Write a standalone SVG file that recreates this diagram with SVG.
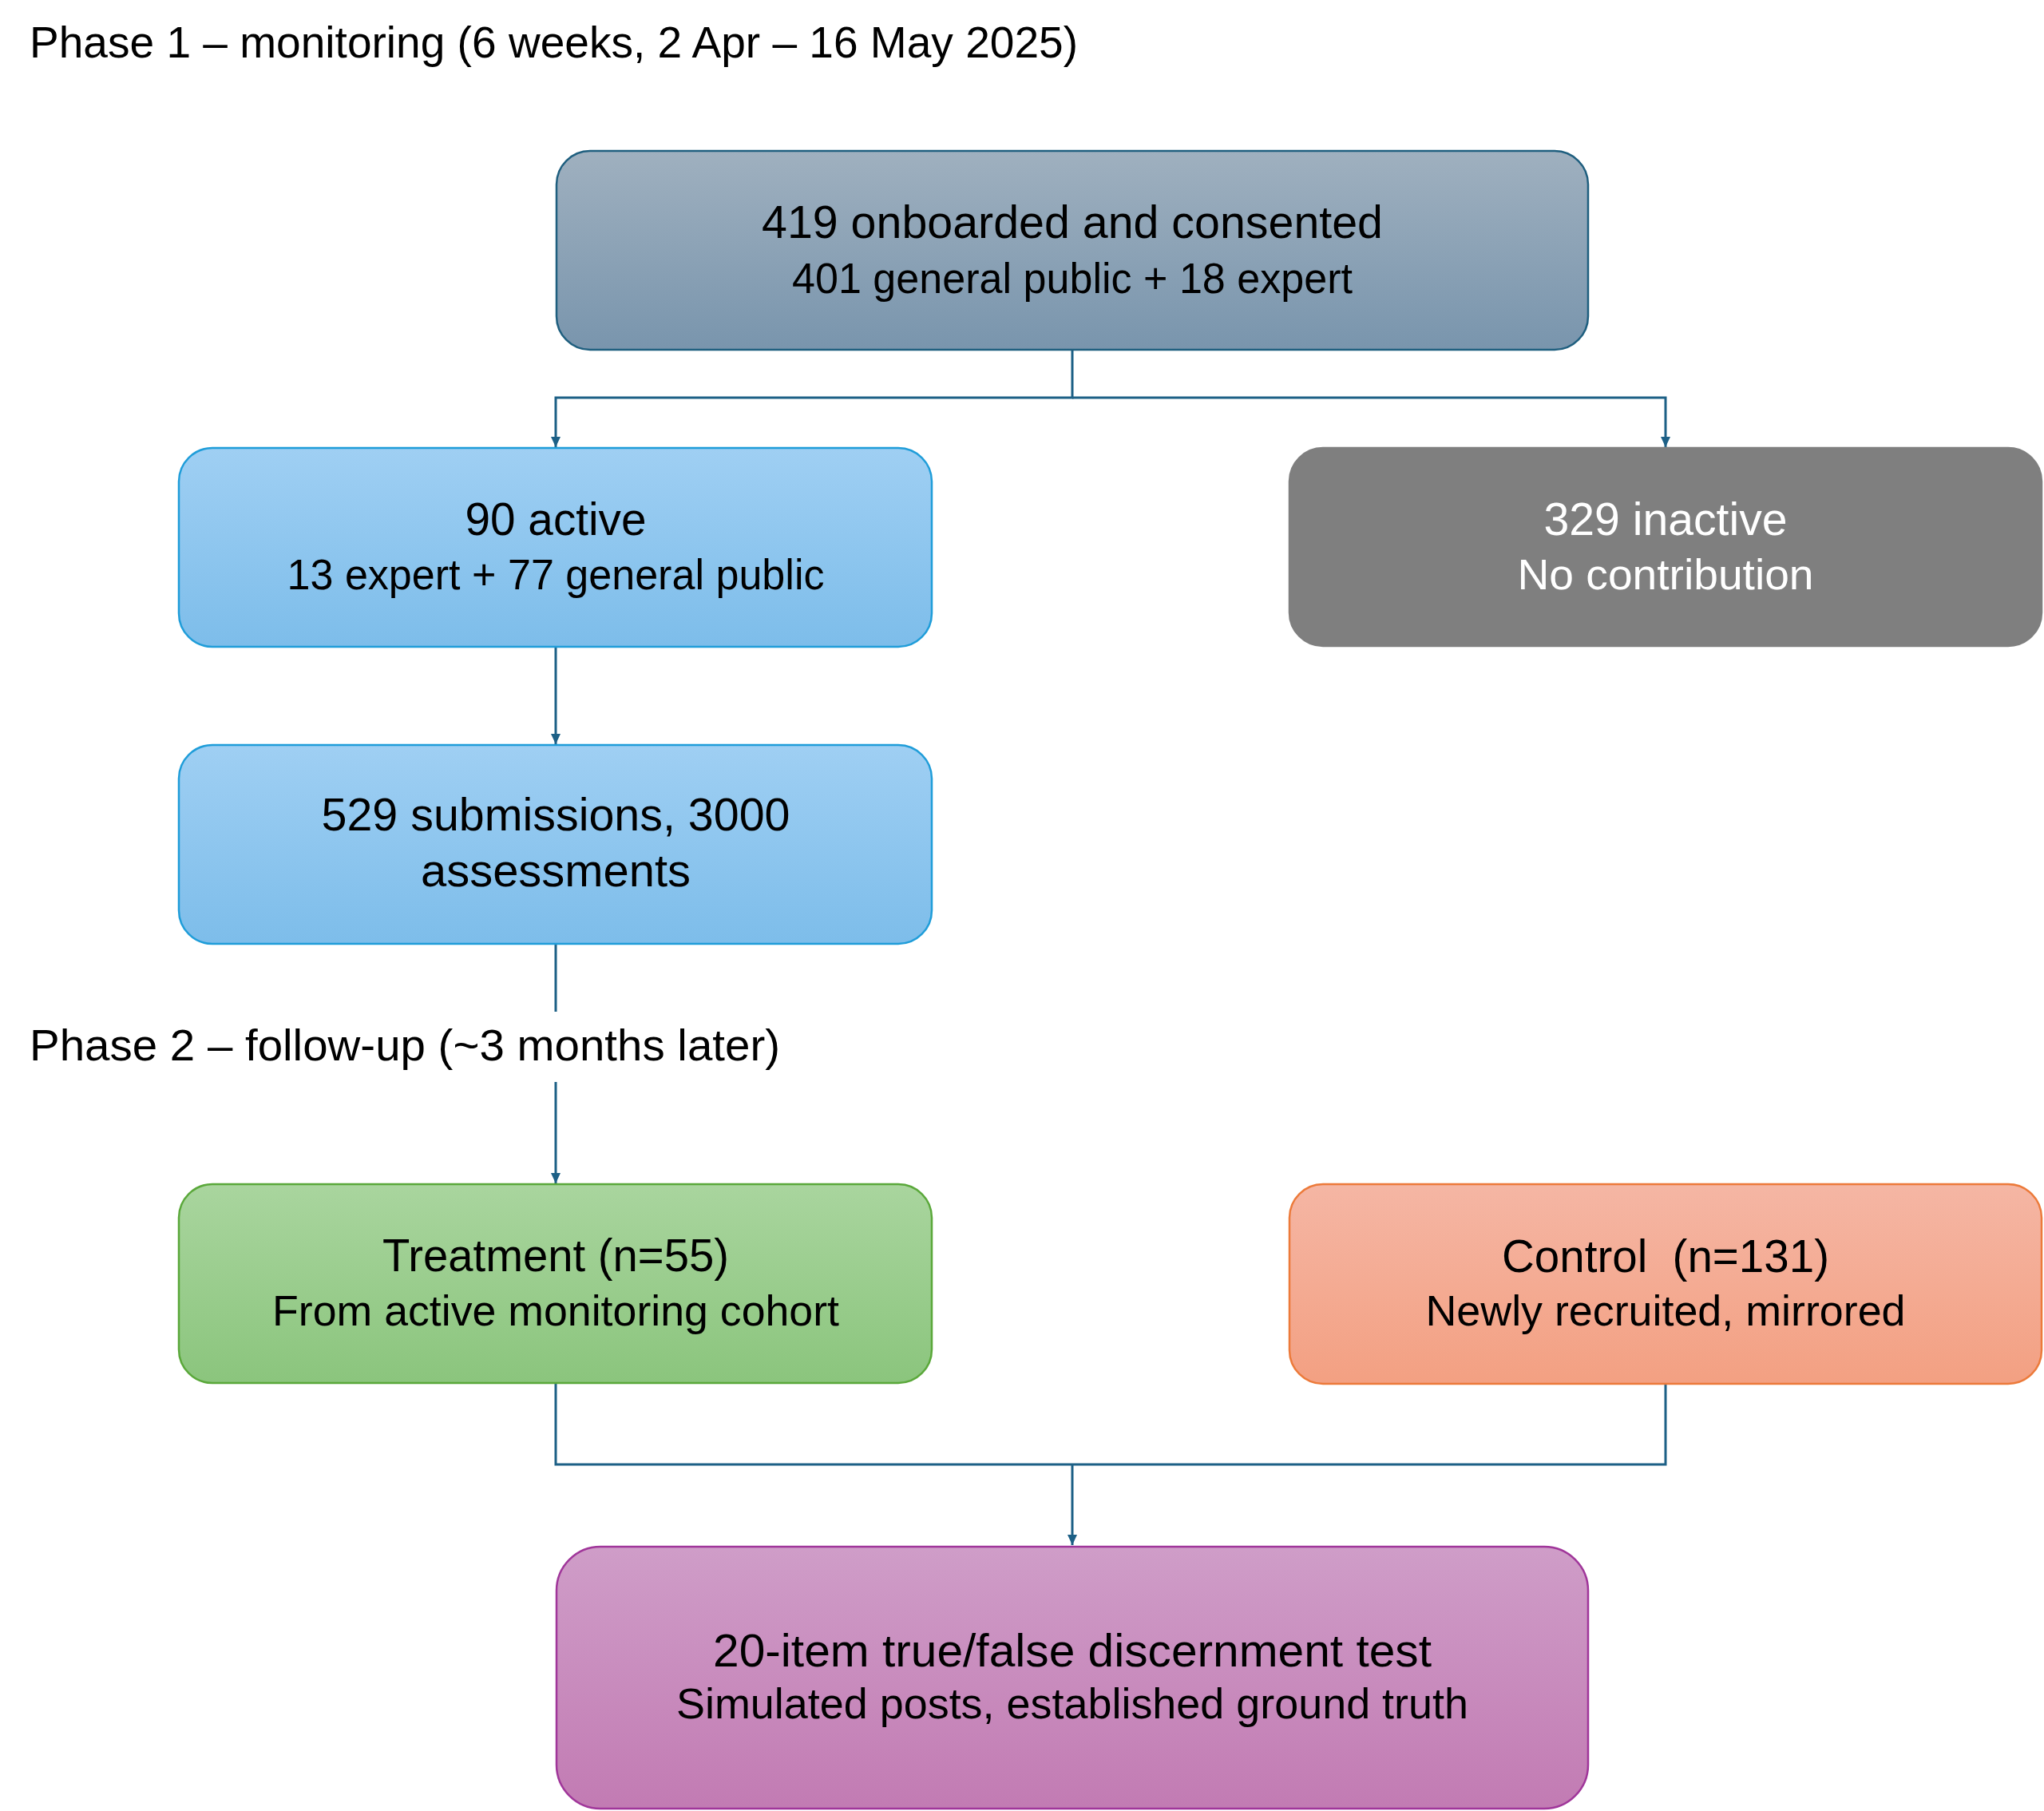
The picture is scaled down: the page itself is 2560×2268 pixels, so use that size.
<svg xmlns="http://www.w3.org/2000/svg" width="2560" height="2268" viewBox="0 0 2560 2268">
<style>
text{font-family:"Liberation Sans",Arial,sans-serif;text-anchor:middle;fill:#000}
.h{text-anchor:start;font-size:55px}
.l1{font-size:57px}
.l2{font-size:53px}
.w{fill:#fff}
.conn{fill:none;stroke:#1d6086;stroke-width:3}
.box{stroke-width:2.5}
</style>
<defs>
<linearGradient id="gTop" x1="0" y1="0" x2="0" y2="1"><stop offset="0" stop-color="#9fb0bf"/><stop offset="1" stop-color="#7995ad"/></linearGradient>
<linearGradient id="gBlue" x1="0" y1="0" x2="0" y2="1"><stop offset="0" stop-color="#9fcff3"/><stop offset="1" stop-color="#7dbdea"/></linearGradient>
<linearGradient id="gGreen" x1="0" y1="0" x2="0" y2="1"><stop offset="0" stop-color="#a9d59e"/><stop offset="1" stop-color="#8bc57d"/></linearGradient>
<linearGradient id="gOrange" x1="0" y1="0" x2="0" y2="1"><stop offset="0" stop-color="#f5b6a4"/><stop offset="1" stop-color="#f3a082"/></linearGradient>
<linearGradient id="gPurple" x1="0" y1="0" x2="0" y2="1"><stop offset="0" stop-color="#cf9dc8"/><stop offset="1" stop-color="#c27bb3"/></linearGradient>
<marker id="arr" markerUnits="userSpaceOnUse" markerWidth="14" markerHeight="12" refX="13" refY="6" orient="auto"><path d="M0,0 L13,6 L0,12 z" fill="#1d6086"/></marker>
</defs>
<rect width="2560" height="2268" fill="#fff"/>

<g id="phase1-label"><text class="h" x="37" y="72" textLength="1313" lengthAdjust="spacingAndGlyphs">Phase 1 – monitoring (6 weeks, 2 Apr – 16 May 2025)</text></g>

<g id="connectors">
<path class="conn" d="M1343,438 V498 H696 V560" marker-end="url(#arr)"/>
<path class="conn" d="M1343,498 H2086 V560" marker-end="url(#arr)"/>
<path class="conn" d="M696,810 V932" marker-end="url(#arr)"/>
<path class="conn" d="M696,1182 V1267 M696,1355 V1482" marker-end="url(#arr)"/>
<path class="conn" d="M696,1732 V1834 H2086 V1733"/>
<path class="conn" d="M1343,1834 V1935" marker-end="url(#arr)"/>
</g>

<g id="onboarded">
<rect class="box" x="697" y="189" width="1292" height="249" rx="42" fill="url(#gTop)" stroke="#1f5f7f"/>
<text class="l1" x="1343" y="298" textLength="778" lengthAdjust="spacingAndGlyphs">419 onboarded and consented</text>
<text class="l2" x="1343" y="367" textLength="702" lengthAdjust="spacingAndGlyphs">401 general public + 18 expert</text>
</g>

<g id="active">
<rect class="box" x="224" y="561" width="943" height="249" rx="42" fill="url(#gBlue)" stroke="#1f9dd9"/>
<text class="l1" x="696" y="670" textLength="227" lengthAdjust="spacingAndGlyphs">90 active</text>
<text class="l2" x="696" y="738" textLength="673" lengthAdjust="spacingAndGlyphs">13 expert + 77 general public</text>
</g>

<g id="inactive">
<rect class="box" x="1615" y="561" width="942" height="248" rx="42" fill="#7f7f7f" stroke="#7f7f7f"/>
<text class="l1 w" x="2086" y="670" textLength="305" lengthAdjust="spacingAndGlyphs">329 inactive</text>
<text class="l2 w" x="2086" y="738" textLength="371" lengthAdjust="spacingAndGlyphs">No contribution</text>
</g>

<g id="submissions">
<rect class="box" x="224" y="933" width="943" height="249" rx="42" fill="url(#gBlue)" stroke="#1f9dd9"/>
<text class="l1" x="696" y="1040" textLength="587" lengthAdjust="spacingAndGlyphs">529 submissions, 3000</text>
<text class="l1" x="696" y="1110" textLength="338" lengthAdjust="spacingAndGlyphs">assessments</text>
</g>

<g id="phase2-label">
<rect x="20" y="1268" width="1776" height="86" fill="#fff"/>
<text class="h" x="37" y="1328" textLength="940" lengthAdjust="spacingAndGlyphs">Phase 2 – follow-up (~3 months later)</text>
</g>

<g id="treatment">
<rect class="box" x="224" y="1483" width="943" height="249" rx="42" fill="url(#gGreen)" stroke="#5aa83a"/>
<text class="l1" x="696" y="1592" textLength="434" lengthAdjust="spacingAndGlyphs">Treatment (n=55)</text>
<text class="l2" x="696" y="1660" textLength="710" lengthAdjust="spacingAndGlyphs">From active monitoring cohort</text>
</g>

<g id="control">
<rect class="box" x="1615" y="1483" width="942" height="250" rx="42" fill="url(#gOrange)" stroke="#ec7a3a"/>
<text class="l1" x="2086" y="1593" xml:space="preserve" textLength="410" lengthAdjust="spacingAndGlyphs">Control  (n=131)</text>
<text class="l2" x="2086" y="1660" textLength="601" lengthAdjust="spacingAndGlyphs">Newly recruited, mirrored</text>
</g>

<g id="test">
<rect class="box" x="697" y="1937" width="1292" height="328" rx="55" fill="url(#gPurple)" stroke="#a0369a"/>
<text class="l1" x="1343" y="2087" textLength="900" lengthAdjust="spacingAndGlyphs">20-item true/false discernment test</text>
<text class="l2" x="1343" y="2152" textLength="992" lengthAdjust="spacingAndGlyphs">Simulated posts, established ground truth</text>
</g>
</svg>
